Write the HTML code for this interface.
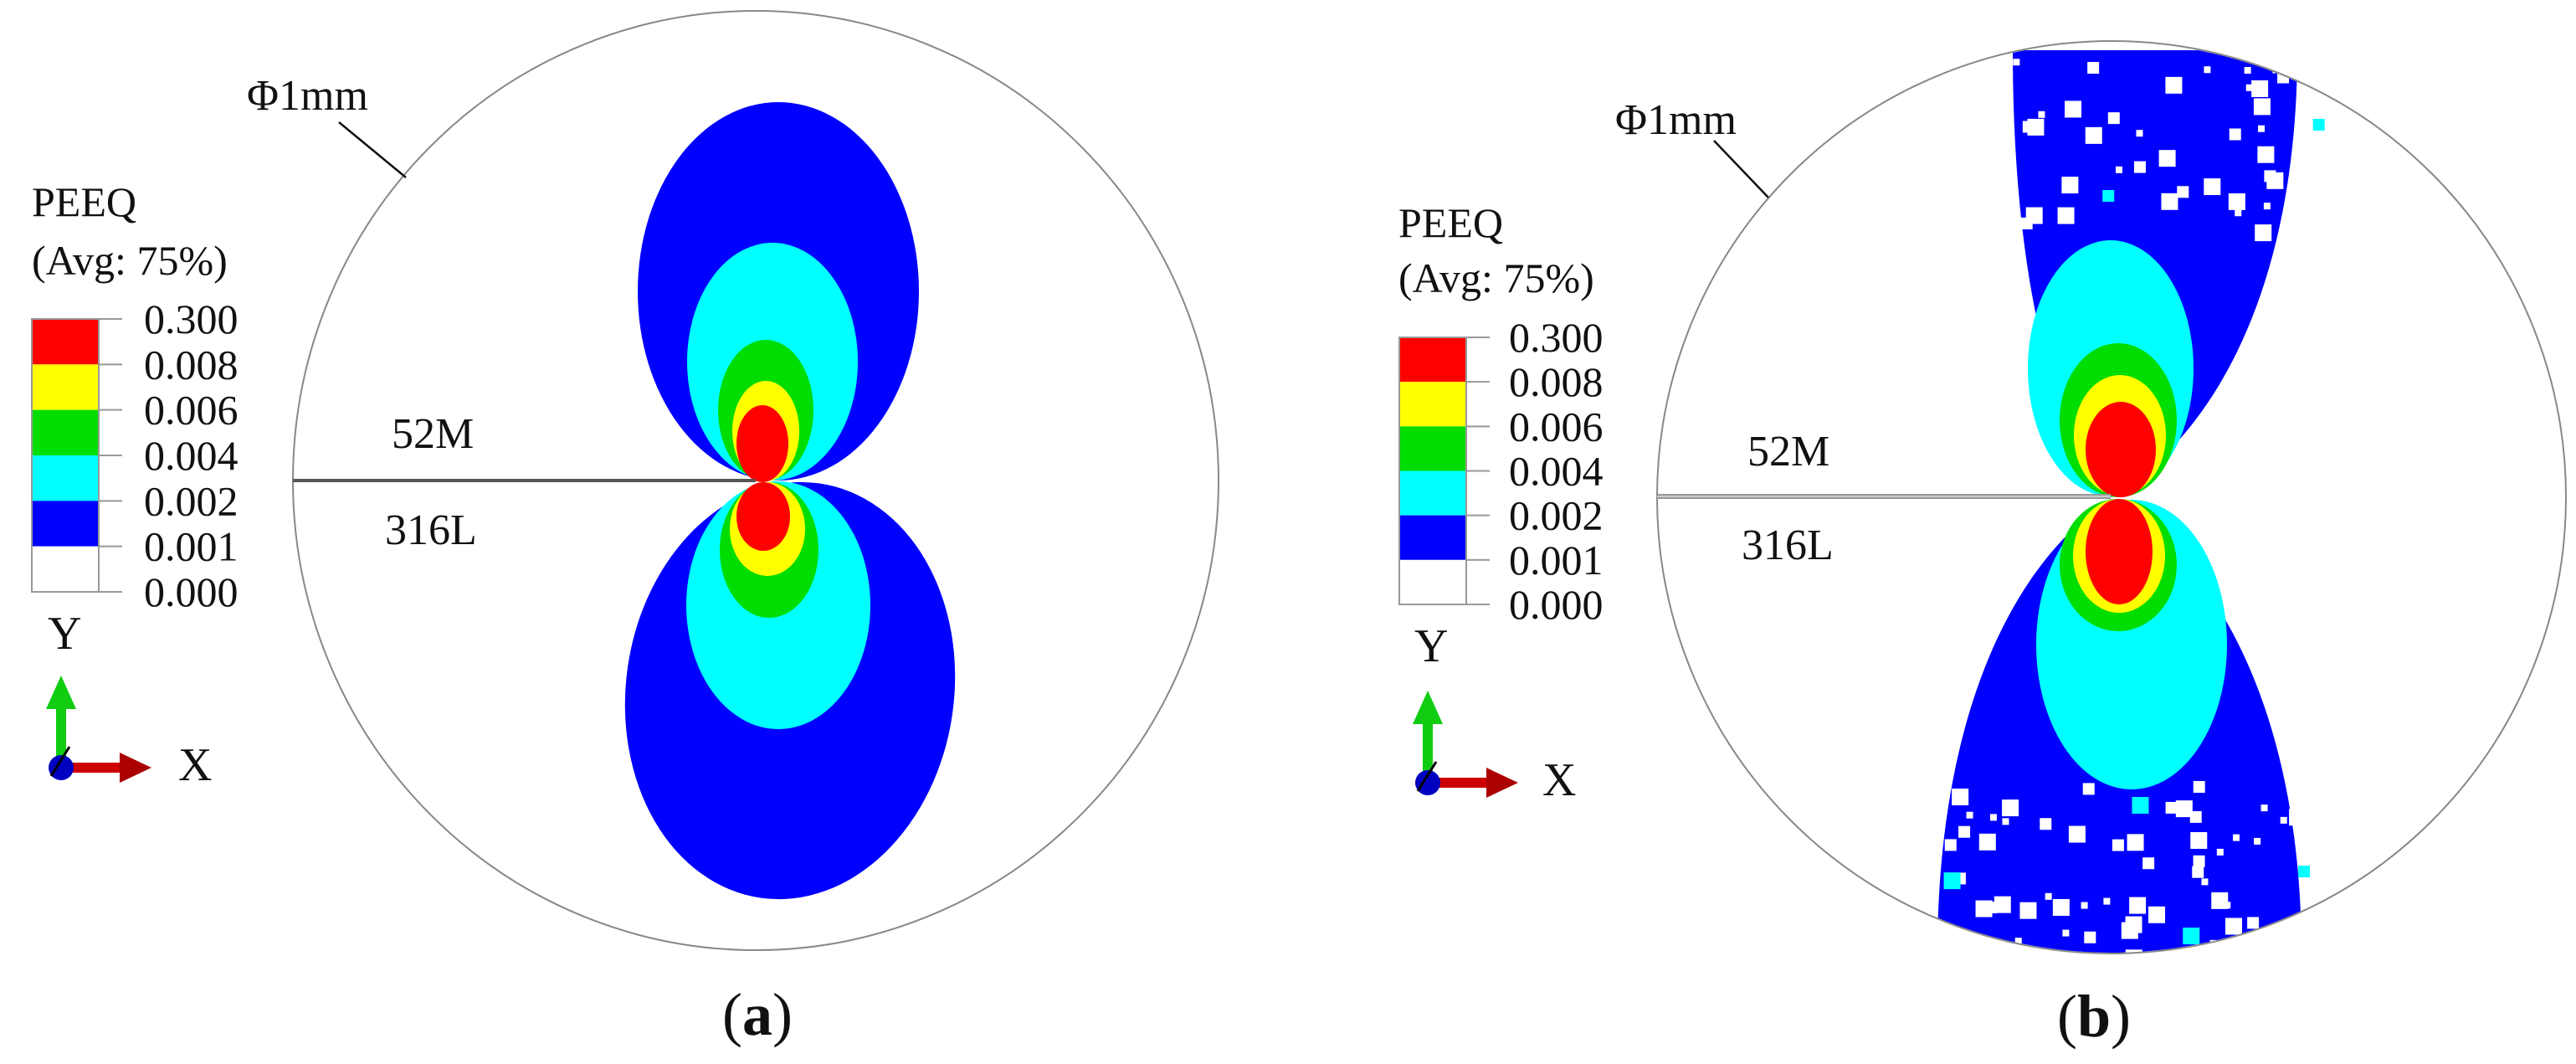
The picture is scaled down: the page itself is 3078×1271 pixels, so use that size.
<!DOCTYPE html>
<html><head><meta charset="utf-8"><style>
html,body{margin:0;padding:0;background:#fff;}
svg{display:block;}
text{font-family:"Liberation Serif",serif;fill:#111;}
</style></head><body>
<svg id="fig" width="3078" height="1271" viewBox="0 0 3078 1271" xmlns="http://www.w3.org/2000/svg">
<defs>
<clipPath id="clipB"><ellipse cx="2523" cy="594" rx="542" ry="544"/></clipPath>
<clipPath id="clipA"><ellipse cx="903" cy="574" rx="552" ry="560"/></clipPath>
</defs>
<g id="panelA">
  <g clip-path="url(#clipA)"><g id="contA"></g></g>
  <ellipse cx="903" cy="574" rx="553" ry="561" fill="none" stroke="#888" stroke-width="2"/>
  <line x1="350" y1="574" x2="903" y2="574" stroke="#555" stroke-width="4"/>
  <text x="295" y="131" font-size="52">Φ1mm</text>
  <line x1="405" y1="146" x2="485" y2="212" stroke="#111" stroke-width="2.5"/>
  <text x="468" y="535" font-size="52">52M</text>
  <text x="460" y="650" font-size="52">316L</text>
  <text x="905" y="1236" font-size="72" text-anchor="middle">(<tspan font-weight="bold">a</tspan>)</text>
  <g id="legA"></g>
</g>
<g id="panelB">
  <g clip-path="url(#clipB)"><g id="contB"></g></g>
  <ellipse cx="2523" cy="594" rx="543" ry="545" fill="none" stroke="#888" stroke-width="2"/>
  <line x1="1980" y1="593" x2="2522" y2="593" stroke="#999" stroke-width="6"/>
  <line x1="1980" y1="593" x2="2522" y2="593" stroke="#ddd" stroke-width="1.5"/>
  <text x="1930" y="160" font-size="52">Φ1mm</text>
  <line x1="2048" y1="168" x2="2113" y2="236" stroke="#111" stroke-width="2.5"/>
  <text x="2088" y="556" font-size="52">52M</text>
  <text x="2081" y="668" font-size="52">316L</text>
  <text x="2502" y="1238" font-size="72" text-anchor="middle">(<tspan font-weight="bold">b</tspan>)</text>
  <g id="legB"></g>
</g>
</svg>
<script>
// Legend data
const legendLabels = ["0.300","0.008","0.006","0.004","0.002","0.001","0.000"];
const bandColors = ["#ff0000","#ffff00","#00dd00","#00ffff","#0000ff","#ffffff"];
// Contour lobes panel (a): [cx, cy, rx, ry, rotation, color]
const lobesA = [
  [930,348,168,226,0,"#0000ff"],
  [944,825,196,250,8,"#0000ff"],
  [923,432,102,142,0,"#00ffff"],
  [930,723,110,148,0,"#00ffff"],
  [915,490,57,84,0,"#00dd00"],
  [919,657,59,81,0,"#00dd00"],
  [915,515,40,60,0,"#ffff00"],
  [917,632,45,56,0,"#ffff00"],
  [911,530,31,46,0,"#ff0000"],
  [912,617,32,41,0,"#ff0000"]];
// Panel (b) outer bowtie: [leftX, rightX, extremeY]
const fanTopB = [2405,2745,60];
const fanBotB = [2315,2750,1140];
// Panel (b) inner lobes: [cx, cy, rx, ry, color]
const lobesB = [
  [2522,440,99,153,"#00ffff"],
  [2547,770,114,173,"#00ffff"],
  [2531,502,70,92,"#00dd00"],
  [2531,675,70,79,"#00dd00"],
  [2533,520,55,72,"#ffff00"],
  [2532,664,55,68,"#ffff00"],
  [2534,537,42,57,"#ff0000"],
  [2532,659,40,63,"#ff0000"]];
const NS="http://www.w3.org/2000/svg";
function mk(tag,attrs,parent){const e=document.createElementNS(NS,tag);for(const k in attrs)e.setAttribute(k,attrs[k]);parent.appendChild(e);return e;}

const gA=document.getElementById('contA');
lobesA.forEach((d,i)=>{const p=mk('ellipse',{cx:d[0],cy:d[1],rx:d[2],ry:d[3],transform:`rotate(${d[4]} ${d[0]} ${d[1]})`,fill:d[5]},gA);

});

function wedge(tx,ty,l,r,ey){
  const h=ey-ty;
  return `M${tx},${ty} C${tx-(tx-l)*0.6},${ty+h*0.15} ${l},${ty+h*0.5} ${l},${ey} L${r},${ey} C${r},${ty+h*0.5} ${tx+(r-tx)*0.6},${ty+h*0.15} ${tx},${ty} Z`;
}
const gB=document.getElementById('contB');
const ft=mk('path',{d:wedge(2522,594,fanTopB[0],fanTopB[1],fanTopB[2]),fill:'#0000ff'},gB);


const fb=mk('path',{d:wedge(2522,596,fanBotB[0],fanBotB[1],fanBotB[2]),fill:'#0000ff'},gB);


// speckle texture (deterministic) at outer element edges in panel b
let s=12345;function rnd(){s=(s*1103515245+12345)%2147483648;return s/2147483648;}
const sp=mk('g',{},gB);


for(let i=0;i<110;i++){
  const top=rnd()<0.5; const y=top? 50+rnd()*220 : 930+rnd()*210;
  const x=2320+rnd()*470; const w=8+Math.floor(rnd()*3)*6;
  mk('rect',{x:x,y:y,width:w,height:w,fill:rnd()<0.06?'#00ffff':'#fff'},sp);
}
lobesB.forEach((d,i)=>{const p=mk('ellipse',{cx:d[0],cy:d[1],rx:d[2],ry:d[3],fill:d[4]},gB);

});

function legend(gid,x0,y0,y1,tx,tag){
  const g=document.getElementById(gid), bh=(y1-y0)/bandColors.length;
  bandColors.forEach((c,i)=>{const r=mk('rect',{x:x0,y:y0+i*bh,width:80,height:bh,fill:c},g);
  
  });
  mk('rect',{x:x0,y:y0,width:80,height:y1-y0,fill:'none',stroke:'#999','stroke-width':2},g);
  legendLabels.forEach((t,i)=>{const yy=y0+i*bh;
    mk('line',{x1:x0+80,y1:yy,x2:x0+108,y2:yy,stroke:'#999','stroke-width':2},g);
    const e=mk('text',{x:tx,y:yy+17,'font-size':50},g);e.textContent=t;
    
    });
}
legend('legA',38,381,707,172,'a');
legend('legB',1672,403,722,1803,'b');
function titles(gid,x,yP,yA){const g=document.getElementById(gid);
  const a=mk('text',{x:x,y:yP,'font-size':50},g);a.textContent='PEEQ';
  
  
  const b=mk('text',{x:x,y:yA,'font-size':50},g);b.textContent='(Avg: 75%)';
  
  }
titles('legA',38,258,328);titles('legB',1671,283,349);
function triad(gid,cx,cy,yl,xl){const g=document.getElementById(gid);
  const t=mk('g',{},g);
  
  
  mk('rect',{x:cx-6,y:cy-75,width:12,height:75,fill:'#1c1'},t);
  mk('polygon',{points:`${cx-18},${cy-70} ${cx+18},${cy-70} ${cx},${cy-110}`,fill:'#1c1'},t);
  mk('rect',{x:cx,y:cy-6,width:75,height:12,fill:'#c00'},t);
  mk('polygon',{points:`${cx+70},${cy-18} ${cx+70},${cy+18} ${cx+108},${cy}`,fill:'#a00'},t);
  mk('circle',{cx:cx,cy:cy,r:15,fill:'#0000c0'},t);
  mk('line',{x1:cx-12,y1:cy+10,x2:cx+10,y2:cy-25,stroke:'#000','stroke-width':3},t);
  const Y=mk('text',{x:cx-16,y:yl,'font-size':56},g);Y.textContent='Y';
  
  
  const X=mk('text',{x:xl,y:cy+15,'font-size':56},g);X.textContent='X';
  
  }
triad('legA',73,917,775,213);
triad('legB',1706,935,790,1843);
</script>
</body></html>
